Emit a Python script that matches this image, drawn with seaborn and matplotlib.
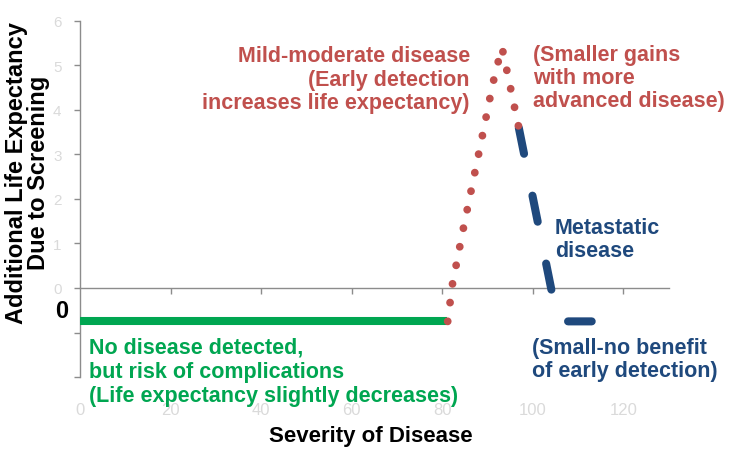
import numpy as np
import pandas as pd
import matplotlib
matplotlib.use("Agg")
import matplotlib.pyplot as plt
import seaborn as sns

# values
green_x = [0, 81]
green_y = [-0.75, -0.75]
red_x = [81.2, 82.2, 84.6, 88.7, 91.1, 92.0, 93.2, 94.4, 96.9]
red_y = [-0.75, 0.06, 1.31, 3.34, 4.56, 4.95, 5.40, 4.82, 3.6]
blue_x = [96.9, 105.5, 113]
blue_y = [3.6, -0.75, -0.75]

x_ticks = [0, 20, 40, 60, 80, 100, 120]
y_ticks = [-2, -1, 0, 1, 2, 3, 4, 5, 6]
y_tick_labels = ["", "", "0", "1", "2", "3", "4", "5", "6"]

GREEN = "#00a651"
RED = "#c0504d"
BLUE = "#1f497d"
AXIS_GRAY = "#8c8c8c"
FAINT = "#dadada"

sns.set_style("white")
plt.rcParams['font.family'] = ['Liberation Sans', 'DejaVu Sans']
plt.rcParams['font.weight'] = 'bold'

fig = plt.figure(figsize=(7.35, 4.56), dpi=100)
ax = fig.add_axes([0.1088, 0.171, 0.801, 0.781])

green_df = pd.DataFrame({"x": green_x, "y": green_y})
red_df = pd.DataFrame({"x": red_x, "y": red_y})
blue_df = pd.DataFrame({"x": blue_x, "y": blue_y})

sns.lineplot(data=green_df, x="x", y="y", ax=ax, color=GREEN, linewidth=5.8,
             sort=False, estimator=None, solid_capstyle="butt", zorder=3)
sns.lineplot(data=blue_df, x="x", y="y", ax=ax, color=BLUE, linewidth=5.8,
             sort=False, estimator=None, linestyle=(0, (3.3, 5.3)),
             dash_capstyle="round", zorder=3)
sns.lineplot(data=red_df, x="x", y="y", ax=ax, color=RED, linewidth=5.6,
             sort=False, estimator=None, linestyle=(0, (0.01, 2.42)),
             dash_capstyle="round", zorder=4)

ax.set_xlim(0, 130)
ax.set_ylim(-2, 6)

# y axis
ax.set_yticks(y_ticks)
ax.set_yticklabels(y_tick_labels)
ax.tick_params(axis="y", left=True, length=4.3, width=1, color=AXIS_GRAY,
               labelcolor=FAINT, labelsize=11, pad=9)
for lab in ax.get_yticklabels():
    lab.set_fontweight("normal")
ax.spines["left"].set_color(AXIS_GRAY)
ax.spines["left"].set_linewidth(1)
ax.spines["top"].set_visible(False)
ax.spines["right"].set_visible(False)
ax.spines["bottom"].set_visible(False)

# faint x tick labels at the bottom
ax.set_xticks(x_ticks)
ax.set_xticklabels([str(t) for t in x_ticks])
ax.tick_params(axis="x", bottom=True, length=0, labelcolor=FAINT,
               labelsize=12, pad=18)
for lab in ax.get_xticklabels():
    lab.set_fontweight("normal")

# horizontal axis line at y = 0 with its ticks
sec = ax.secondary_xaxis(0.25)
sec.set_xticks(x_ticks[1:])
sec.tick_params(axis="x", length=4, width=1, color=AXIS_GRAY, labelbottom=False)
sec.spines["bottom"].set_color(AXIS_GRAY)
sec.spines["bottom"].set_linewidth(1)

ax.set_ylabel("Additional Life Expectancy\nDue to Screening", fontsize=17,
              fontweight="bold", color="black", linespacing=0.95)
ax.yaxis.set_label_coords(-0.051, 0.575)
ax.set_xlabel("Severity of Disease", fontsize=16, fontweight="bold", color="black")
ax.xaxis.set_label_coords(0.494, -0.135)

ax.text(-4, -0.5, "0", fontsize=17, fontweight="bold", color="black",
        ha="center", va="center", clip_on=False)

ax.text(86.1, 5.45, "Mild-moderate disease\n(Early detection\nincreases life expectancy)",
        fontsize=15.5, fontweight="bold", color=RED, ha="right", va="top",
        multialignment="right", linespacing=1.15)
ax.text(100.0, 5.49, "(Smaller gains\nwith more\nadvanced disease)",
        fontsize=15.5, fontweight="bold", color=RED, ha="left", va="top",
        linespacing=1.15)
ax.text(104.9, 1.6, "Metastatic\ndisease", fontsize=15.5, fontweight="bold",
        color=BLUE, ha="left", va="top", linespacing=1.15)
ax.text(99.8, -1.1, "(Small-no benefit\nof early detection)", fontsize=15.5,
        fontweight="bold", color=BLUE, ha="left", va="top", linespacing=1.15,
        clip_on=False)
ax.text(2.0, -1.1, "No disease detected,\nbut risk of complications\n(Life expectancy slightly decreases)",
        fontsize=15.5, fontweight="bold", color=GREEN, ha="left", va="top",
        linespacing=1.2, clip_on=False)

fig.savefig("out.png", dpi=100)
